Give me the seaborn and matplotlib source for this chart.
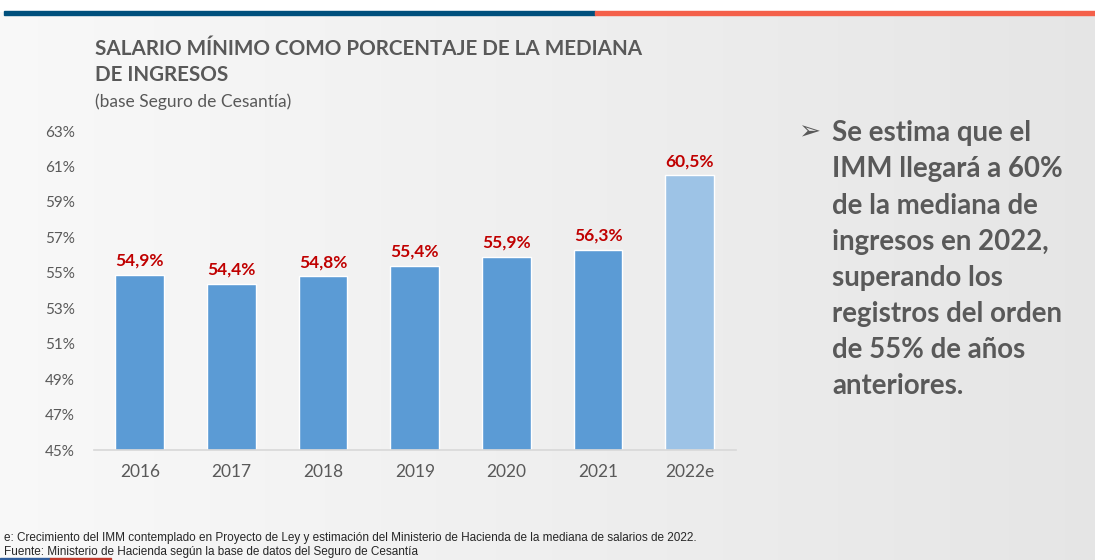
import matplotlib
matplotlib.use("Agg")
import matplotlib.pyplot as plt
import seaborn as sns
import pandas as pd
import numpy as np

# datos
years = ["2016", "2017", "2018", "2019", "2020", "2021", "2022e"]
values = [54.9, 54.4, 54.8, 55.4, 55.9, 56.3, 60.5]
labels = ["54,9%", "54,4%", "54,8%", "55,4%", "55,9%", "56,3%", "60,5%"]
yticks = [45, 47, 49, 51, 53, 55, 57, 59, 61, 63]

bar_colors = ["#5B9BD5"] * 6 + ["#9DC3E6"]
gray = "#595959"

sns.set_theme(style="white")
plt.rcParams["font.family"] = ["Lato", "DejaVu Sans"]

df = pd.DataFrame({"year": years, "value": values})

fig = plt.figure(figsize=(10.95, 5.6), dpi=100)
fig.patch.set_facecolor("white")

# fondo gris claro con degradado horizontal
bg = fig.add_axes([0, 0, 1, 1], zorder=-10)
grad = np.linspace(0.975, 0.90, 256).reshape(1, -1)
bg.imshow(np.dstack([grad, grad, grad]), aspect="auto", extent=[0, 1, 0, 0.977])
bg.set_xlim(0, 1)
bg.set_ylim(0, 1)
bg.axis("off")
# franja superior
bg.axhspan(0.973, 0.980, xmin=0.004, xmax=0.543, color="#00507D")
bg.axhspan(0.973, 0.980, xmin=0.543, xmax=1.0, color="#F4604A")
# subrayado fuente
bg.axhspan(0.0, 0.004, xmin=0.0, xmax=0.046, color="#2E5C9A")
bg.axhspan(0.0, 0.004, xmin=0.046, xmax=0.101, color="#C0392B")

ax = fig.add_axes([0.0858, 0.196, 0.586, 0.570])
ax.patch.set_alpha(0)
sns.barplot(data=df, x="year", y="value", hue="year", palette=bar_colors,
            legend=False, width=0.53, saturation=1, ax=ax)

ax.set_ylim(45, 63)
ax.set_xlim(-0.5, 6.5)
ax.set_yticks(yticks)
ax.set_yticklabels([f"{t}%" for t in yticks], color=gray, fontsize=11)
ax.tick_params(axis="y", length=0, pad=14)
ax.tick_params(axis="x", length=0, pad=10, labelsize=12.5, labelcolor=gray)
ax.set_xticks(np.arange(-0.5, 7, 1), minor=True)
ax.tick_params(axis="x", which="minor", length=6, color="#D9D9D9", width=1)
ax.set_xlabel("")
ax.set_ylabel("")
for s in ["top", "right", "left"]:
    ax.spines[s].set_visible(False)
ax.spines["bottom"].set_color("#D9D9D9")

for i, (v, lab) in enumerate(zip(values, labels)):
    ax.text(i, v + 0.35, lab, ha="center", va="bottom", color="#C00000",
            fontsize=12.5, fontweight="bold")

# titulos
fig.text(0.087, 0.912, "SALARIO MÍNIMO COMO PORCENTAJE DE LA MEDIANA",
         color=gray, fontsize=14.9, fontweight="bold", va="center")
fig.text(0.087, 0.866, "DE INGRESOS", color=gray, fontsize=14.9,
         fontweight="bold", va="center")
fig.text(0.087, 0.818, "(base Seguro de Cesantía)", color=gray, fontsize=12.5,
         va="center")

# texto lateral
fig.text(0.729, 0.764, "➢", color=gray, fontsize=19,
         family=["DejaVu Sans"], va="center")
side = ["Se estima que el", "IMM llegará a 60%", "de la mediana de",
        "ingresos en 2022,", "superando los", "registros del orden",
        "de 55% de años", "anteriores."]
for k, line in enumerate(side):
    fig.text(0.760, 0.762 - k * 0.0645, line, color=gray, fontsize=19.9,
             fontweight="bold", va="center")

# notas
fig.text(0.004, 0.040, "e: Crecimiento del IMM contemplado en Proyecto de Ley y estimación del Ministerio de Hacienda de la mediana de salarios de 2022.",
         color="#262626", fontsize=8.5, family=["Liberation Sans"], va="center")
fig.text(0.004, 0.015, "Fuente: Ministerio de Hacienda según la base de datos del Seguro de Cesantía",
         color="#262626", fontsize=8.5, family=["Liberation Sans"], va="center")

fig.savefig("out.png", dpi=100)
